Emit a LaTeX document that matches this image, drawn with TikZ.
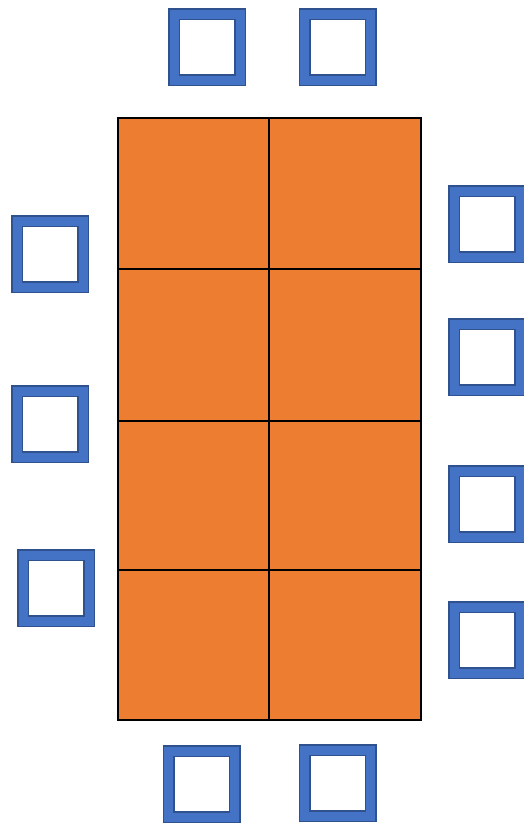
\documentclass[tikz,border=0pt]{standalone}
\usepackage{xcolor}
\usepackage{tikz}
\usetikzlibrary{positioning}

\definecolor{tableorange}{HTML}{ED7D31}
\definecolor{chairblue}{HTML}{4472C4}
\definecolor{chairedge}{HTML}{2F528F}

\begin{document}
\begin{tikzpicture}[x=1pt,y=-1pt]
  \tikzstyle{chair}=[rectangle,draw=chairedge,line width=1.5pt,double=chairblue,
    double distance=9pt,minimum size=66pt,inner sep=0pt,outer sep=0pt]
  \tikzstyle{cell}=[fill=tableorange,draw=black,line width=2.5pt]
  \useasboundingbox (0,0) rectangle (523,823);

  % table, two columns by four rows
  \foreach \ytop/\ybot in {118/269,269/421,421/570,570/720} {
    \draw[cell] (118,\ytop) rectangle (269,\ybot);
    \draw[cell] (269,\ytop) rectangle (421,\ybot);
  }

  % chairs round the table
  \node[chair] (top1) at (207,47) {};
  \node[chair] (top2) at (337.5,47) {};
  \node[chair] (left1) at (50,254) {};
  \node[chair] (left2) at (50,424) {};
  \node[chair] (left3) at (56,588) {};
  \node[chair] (right1) at (487,224) {};
  \node[chair] (right2) at (487,357) {};
  \node[chair] (right3) at (487,504) {};
  \node[chair] (right4) at (487,640) {};
  \node[chair] (bot1) at (201.7,784) {};
  \node[chair] (bot2) at (337.7,783) {};
\end{tikzpicture}
\end{document}
